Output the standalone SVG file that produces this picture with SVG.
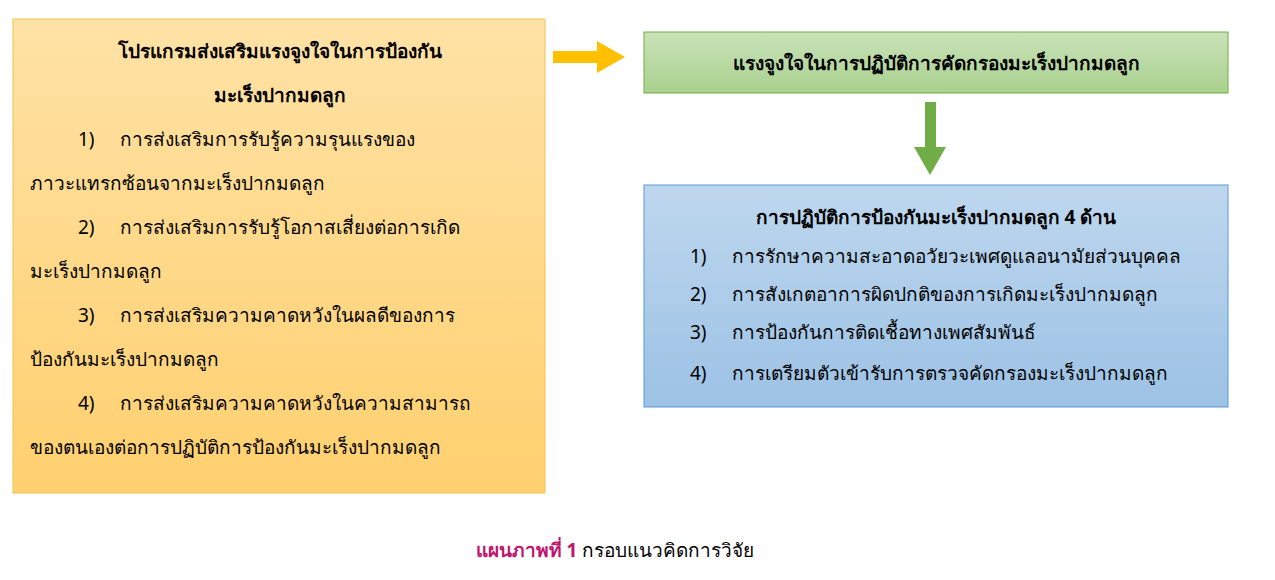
<svg xmlns="http://www.w3.org/2000/svg" width="1275" height="580" viewBox="0 0 1275 580">
<defs>
<linearGradient id="gy" x1="0" y1="0" x2="0" y2="1"><stop offset="0" stop-color="#FFE2A6"/><stop offset="1" stop-color="#FFD06E"/></linearGradient>
<linearGradient id="gg" x1="0" y1="0" x2="0" y2="1"><stop offset="0" stop-color="#C9E2B9"/><stop offset="1" stop-color="#A9D18E"/></linearGradient>
<linearGradient id="gb" x1="0" y1="0" x2="0" y2="1"><stop offset="0" stop-color="#BED7EE"/><stop offset="1" stop-color="#9CC2E5"/></linearGradient>
<style>
text{font-family:"Noto Sans","DejaVu Sans",sans-serif;font-size:19px;fill:#000}
.b{font-weight:bold}
.c{text-anchor:middle}
</style>
</defs>
<g id="program">
<rect x="13" y="19" width="532" height="474" fill="url(#gy)" stroke="#F2C14E" stroke-width="1"/>
<text class="b c" x="280" y="58">โปรแกรมส่งเสริมแรงจูงใจในการป้องกัน</text>
<text class="b c" x="280" y="102">มะเร็งปากมดลูก</text>
<text x="78" y="146">1)</text><text x="120" y="146">การส่งเสริมการรับรู้ความรุนแรงของ</text>
<text x="30" y="190">ภาวะแทรกซ้อนจากมะเร็งปากมดลูก</text>
<text x="78" y="234">2)</text><text x="120" y="234">การส่งเสริมการรับรู้โอกาสเสี่ยงต่อการเกิด</text>
<text x="30" y="278">มะเร็งปากมดลูก</text>
<text x="78" y="322">3)</text><text x="120" y="322">การส่งเสริมความคาดหวังในผลดีของการ</text>
<text x="30" y="366">ป้องกันมะเร็งปากมดลูก</text>
<text x="78" y="410">4)</text><text x="120" y="410">การส่งเสริมความคาดหวังในความสามารถ</text>
<text x="30" y="454">ของตนเองต่อการปฏิบัติการป้องกันมะเร็งปากมดลูก</text>
</g>
<g id="motivation">
<rect x="644" y="32" width="584" height="61" fill="url(#gg)" stroke="#70AD47" stroke-width="1"/>
<text class="b c" x="936" y="70">แรงจูงใจในการปฏิบัติการคัดกรองมะเร็งปากมดลูก</text>
</g>
<g id="practice">
<rect x="644" y="185" width="584" height="222" fill="url(#gb)" stroke="#5B9BD5" stroke-width="1"/>
<text class="b c" x="936" y="224">การปฏิบัติการป้องกันมะเร็งปากมดลูก 4 ด้าน</text>
<text x="690" y="263">1)</text><text x="732" y="263">การรักษาความสะอาดอวัยวะเพศดูแลอนามัยส่วนบุคคล</text>
<text x="690" y="301">2)</text><text x="732" y="301">การสังเกตอาการผิดปกติของการเกิดมะเร็งปากมดลูก</text>
<text x="690" y="339">3)</text><text x="732" y="339">การป้องกันการติดเชื้อทางเพศสัมพันธ์</text>
<text x="690" y="380">4)</text><text x="732" y="380">การเตรียมตัวเข้ารับการตรวจคัดกรองมะเร็งปากมดลูก</text>
</g>
<g id="connectors">
<polygon points="553,51 597,51 597,41 625,57 597,73 597,63 553,63" fill="#FFC000"/>
<polygon points="925,102 936,102 936,147 946,147 930,175 914,147 925,147" fill="#70AD47"/>
</g>
<g id="caption">
<text class="c" x="615" y="557"><tspan class="b" fill="#C0156E" style="fill:#C0156E">แผนภาพที่ 1</tspan> กรอบแนวคิดการวิจัย</text>
</g>
</svg>
